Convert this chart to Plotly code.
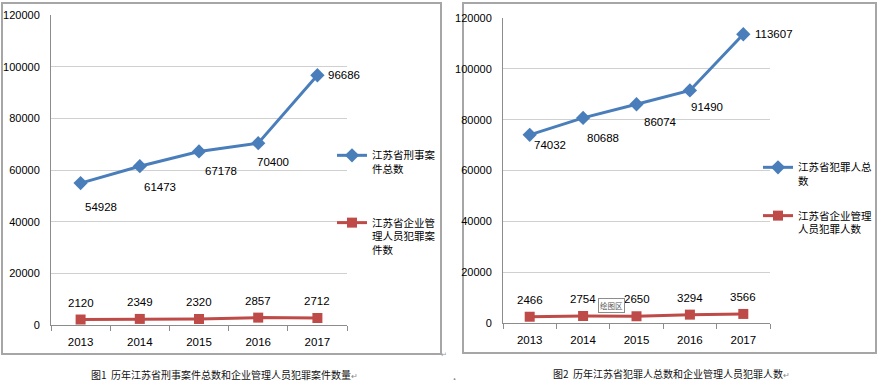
import plotly.graph_objects as go

# ---------------- data ----------------
years = ["2013", "2014", "2015", "2016", "2017"]

# Chart 1
criminal_cases_total = [54928, 61473, 67178, 70400, 96686]
manager_crime_cases = [2120, 2349, 2320, 2857, 2712]

# Chart 2
criminals_total = [74032, 80688, 86074, 91490, 113607]
manager_criminals = [2466, 2754, 2650, 3294, 3566]

y_ticks = [0, 20000, 40000, 60000, 80000, 100000, 120000]

name1a = "江苏省刑事案<br>件总数"
name1b = "江苏省企业管<br>理人员犯罪案<br>件数"
name2a = "江苏省犯罪人总<br>数"
name2b = "江苏省企业管理<br>人员犯罪人数"

caption1 = "图1  历年江苏省刑事案件总数和企业管理人员犯罪案件数量"
caption2 = "图2  历年江苏省犯罪人总数和企业管理人员犯罪人数"

# ---------------- style ----------------
W, H = 877, 384
BLUE = "#4A7EBB"
RED = "#BE4B48"
NUM_FONT = "Liberation Sans Narrow, Arial Narrow, Liberation Sans, Arial, sans-serif"
CJK_FONT = "Noto Sans CJK SC, sans-serif"

# label offsets (style, px)
blue1_shift = [(2, -24), (2, -21), (4, -20), (-3, -19), (9, 0)]
blue2_shift = [(2, -10), (2, -20), (5, -18), (-1, -17), (10, 0)]
red_shift = 17


def px(x):
    return x / W


def py(y):
    return 1 - y / H


fig = go.Figure()

fig.add_trace(go.Scatter(
    x=years, y=criminal_cases_total, name=name1a, mode="lines+markers",
    line=dict(color=BLUE, width=3), marker=dict(symbol="diamond", size=11, color=BLUE),
    xaxis="x", yaxis="y", legend="legend", legendgroup="a"))
fig.add_trace(go.Scatter(
    x=years, y=manager_crime_cases, name=name1b, mode="lines+markers",
    line=dict(color=RED, width=3), marker=dict(symbol="square", size=10, color=RED),
    xaxis="x", yaxis="y", legend="legend", legendgroup="b"))
fig.add_trace(go.Scatter(
    x=years, y=criminals_total, name=name2a, mode="lines+markers",
    line=dict(color=BLUE, width=3), marker=dict(symbol="diamond", size=11, color=BLUE),
    xaxis="x2", yaxis="y2", legend="legend2", legendgroup="c"))
fig.add_trace(go.Scatter(
    x=years, y=manager_criminals, name=name2b, mode="lines+markers",
    line=dict(color=RED, width=3), marker=dict(symbol="square", size=10, color=RED),
    xaxis="x2", yaxis="y2", legend="legend2", legendgroup="d"))

annotations = []
lab_font = dict(family=NUM_FONT, size=11.5, color="#000")
for ys, shifts, xr, yr in [
    (criminal_cases_total, blue1_shift, "x", "y"),
    (criminals_total, blue2_shift, "x2", "y2"),
]:
    for i, yv in enumerate(ys):
        dx, dy = shifts[i]
        annotations.append(dict(
            x=i, y=yv, xref=xr, yref=yr, text=str(yv), showarrow=False,
            xanchor="left", yanchor="middle", xshift=dx, yshift=dy, font=lab_font))
for ys, xr, yr in [
    (manager_crime_cases, "x", "y"),
    (manager_criminals, "x2", "y2"),
]:
    for i, yv in enumerate(ys):
        annotations.append(dict(
            x=i, y=yv, xref=xr, yref=yr, text=str(yv), showarrow=False,
            xanchor="center", yanchor="middle", yshift=red_shift, font=lab_font))

# captions
annotations.append(dict(
    x=px(224), y=py(374), xref="paper", yref="paper", showarrow=False,
    xanchor="center", yanchor="middle",
    text=caption1 + "<span style='font-size:8px;color:#888'>↵</span>",
    font=dict(family=CJK_FONT, size=10, color="#111")))
annotations.append(dict(
    x=px(671), y=py(373), xref="paper", yref="paper", showarrow=False,
    xanchor="center", yanchor="middle",
    text=caption2 + "<span style='font-size:8px;color:#888'>↵</span>",
    font=dict(family=CJK_FONT, size=10, color="#111")))
annotations.append(dict(
    x=px(454), y=py(378), xref="paper", yref="paper", showarrow=False,
    xanchor="center", yanchor="middle",
    text="•", font=dict(size=8, color="#888")))
annotations.append(dict(
    x=px(444), y=py(354), xref="paper", yref="paper", showarrow=False,
    xanchor="center", yanchor="middle",
    text="↵", font=dict(size=7, color="#999")))
# "绘图区" tooltip
annotations.append(dict(
    x=px(611), y=py(305), xref="paper", yref="paper", showarrow=False,
    xanchor="center", yanchor="middle",
    text="绘图区", bgcolor="#ffffff", bordercolor="#8c8c8c", borderwidth=1, borderpad=1,
    font=dict(family=CJK_FONT, size=7.5, color="#555")))

shapes = [
    dict(type="rect", xref="paper", yref="paper", x0=px(2), x1=px(441), y0=py(354), y1=py(3),
         line=dict(color="#a6a6a6", width=2), layer="below"),
    dict(type="rect", xref="paper", yref="paper", x0=px(463), x1=px(876), y0=py(353), y1=py(3),
         line=dict(color="#a6a6a6", width=2), layer="below"),
]

xaxis_common = dict(
    type="category", range=[-0.5, 4.5], showline=True, linecolor="#8c8c8c", linewidth=1,
    ticks="outside", tickson="boundaries", ticklen=5, tickcolor="#8c8c8c",
    showgrid=False, tickfont=dict(family=NUM_FONT, size=11.5, color="#000"),
    ticklabelstandoff=6, fixedrange=True, automargin=False)
yaxis_common = dict(
    range=[0, 120000], tickvals=y_ticks, ticktext=[str(v) for v in y_ticks],
    showline=True, linecolor="#8c8c8c", linewidth=1, showgrid=True, gridcolor="#d0d0d0",
    gridwidth=1, zeroline=False, ticks="", tickfont=dict(family=NUM_FONT, size=11, color="#000"),
    ticklabelstandoff=8, fixedrange=True, automargin=False)

legend_common = dict(
    font=dict(family=CJK_FONT, size=10.5, color="#000"), bgcolor="rgba(0,0,0,0)",
    borderwidth=0, valign="top", xanchor="left", yanchor="top", itemwidth=30,
    traceorder="grouped")

fig.update_layout(
    width=W, height=H, margin=dict(l=0, r=0, t=0, b=0, autoexpand=False),
    paper_bgcolor="#ffffff", plot_bgcolor="rgba(0,0,0,0)",
    xaxis=dict(domain=[px(51), px(347)], anchor="y", **xaxis_common),
    yaxis=dict(domain=[py(325), py(15)], anchor="x", **yaxis_common),
    xaxis2=dict(domain=[px(503), px(770)], anchor="y2", **xaxis_common),
    yaxis2=dict(domain=[py(323), py(18)], anchor="x2", **yaxis_common),
    legend=dict(x=px(332), y=py(142), tracegroupgap=37, **legend_common),
    legend2=dict(x=px(758), y=py(154), tracegroupgap=18, **legend_common),
    annotations=annotations, shapes=shapes, showlegend=True,
)

fig.write_html(
    "out.html",
    config={"displayModeBar": False},
    post_script="document.body.style.margin='0';document.body.style.overflow='hidden';",
)
